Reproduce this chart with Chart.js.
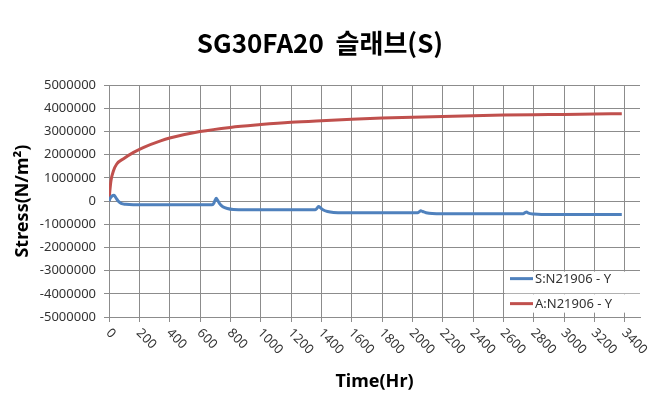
<!DOCTYPE html>
<html>
<head>
<meta charset="utf-8">
<script src="https://cdn.jsdelivr.net/npm/chart.js@4/dist/chart.umd.min.js"></script>
<style>
  html, body { margin: 0; padding: 0; background: #fff; }
  #wrap { width: 667px; height: 400px; }
</style>
</head>
<body>
<div id="wrap"><canvas id="chart" width="667" height="400"></canvas></div>
<script>
// S:N21906 - Y (blue)
const timeS = [0, 8, 20, 33, 45, 60, 80, 110, 160, 300, 500, 680, 692, 700, 707, 715, 730, 750, 780, 820, 900, 1100,
  1360, 1370, 1376, 1382, 1392, 1410, 1440, 1480, 1550, 1800, 2035, 2045, 2055, 2068, 2090, 2130, 2200, 2500,
  2730, 2742, 2752, 2765, 2800, 2850, 3000, 3380];
const stressS = [0, 120000, 220000, 250000, 150000, 0, -100000, -140000, -160000, -160000, -160000, -160000, -80000,
  50000, 120000, 40000, -120000, -240000, -320000, -360000, -370000, -370000,
  -370000, -320000, -260000, -230000, -280000, -370000, -450000, -490000, -500000, -500000,
  -500000, -460000, -420000, -450000, -500000, -540000, -550000, -550000,
  -550000, -500000, -470000, -520000, -560000, -580000, -580000, -580000];

// A:N21906 - Y (red)
const timeA = [0, 5, 13, 29, 51, 96, 162, 229, 340, 400, 600, 800, 1000, 1200, 1400, 1600, 1800, 2000, 2200, 2400,
  2600, 2800, 3000, 3200, 3380];
const stressA = [0, 400000, 880000, 1300000, 1600000, 1830000, 2100000, 2320000, 2600000, 2720000, 3000000, 3180000,
  3300000, 3400000, 3470000, 3530000, 3580000, 3620000, 3650000, 3680000, 3710000, 3730000, 3740000, 3760000, 3770000];

const xTickValues = [0, 200, 400, 600, 800, 1000, 1200, 1400, 1600, 1800, 2000, 2200, 2400, 2600, 2800, 3000, 3200, 3400];
const seriesNames = ["S:N21906 - Y", "A:N21906 - Y"];
const chartTitle = "SG30FA20  슬래브(S)";

const toPoints = (xs, ys) => xs.map((x, i) => ({ x: x, y: ys[i] }));

const BLUE = "#4f81bd";
const RED = "#c0504d";
const GRID = "#8c8c8c";
const TEXT = "#333333";
const FONT = "'Noto Sans', 'Noto Sans CJK KR', sans-serif";

// rotated x tick labels (reading downwards to the right)
const xLabels = {
  id: "xLabels",
  afterDraw(chart) {
    const ctx = chart.ctx;
    const sx = chart.scales.x;
    ctx.save();
    ctx.font = "13px " + FONT;
    ctx.fillStyle = TEXT;
    ctx.textAlign = "left";
    ctx.textBaseline = "middle";
    sx.ticks.forEach((t) => {
      const px = sx.getPixelForValue(t.value);
      ctx.save();
      ctx.translate(px - 1, sx.top + 14);
      ctx.rotate(Math.PI / 4);
      ctx.fillText(String(t.value), 0, 0);
      ctx.restore();
    });
    ctx.restore();
  },
};

// legend box inside the plot, lower right
const innerLegend = {
  id: "innerLegend",
  afterDatasetsDraw(chart) {
    const ctx = chart.ctx;
    const sy = chart.scales.y;
    const area = chart.chartArea;
    const gy = sy.getPixelForValue(-4000000);
    const top = sy.getPixelForValue(-3000000) + 1;
    const bottom = top + 41;
    const left = area.right - 135;
    ctx.save();
    ctx.fillStyle = "#ffffff";
    ctx.fillRect(left, top, area.right - left, gy - 0.5 - top);
    ctx.fillRect(left, gy + 0.5, area.right - left, bottom - gy - 0.5);
    ctx.font = "13px " + FONT;
    ctx.textBaseline = "middle";
    ctx.textAlign = "left";
    chart.data.datasets.forEach((ds, i) => {
      const y = top + 7 + i * 25;
      ctx.strokeStyle = ds.borderColor;
      ctx.lineWidth = 3;
      ctx.beginPath();
      ctx.moveTo(left + 5, y);
      ctx.lineTo(left + 28, y);
      ctx.stroke();
      ctx.fillStyle = TEXT;
      ctx.fillText(ds.label, left + 30, y + 1);
    });
    ctx.restore();
  },
};

new Chart(document.getElementById("chart"), {
  type: "line",
  data: {
    datasets: [
      {
        label: seriesNames[0],
        data: toPoints(timeS, stressS),
        borderColor: BLUE,
        borderWidth: 3,
        pointRadius: 0,
        cubicInterpolationMode: "monotone",
        fill: false,
      },
      {
        label: seriesNames[1],
        data: toPoints(timeA, stressA),
        borderColor: RED,
        borderWidth: 3,
        pointRadius: 0,
        cubicInterpolationMode: "monotone",
        fill: false,
      },
    ],
  },
  options: {
    responsive: false,
    animation: false,
    layout: { padding: { left: 0, right: 27, top: 0, bottom: 0 } },
    plugins: {
      legend: { display: false },
      tooltip: { enabled: false },
      title: {
        display: true,
        text: chartTitle,
        color: "#000",
        font: { family: "'Noto Sans CJK KR', 'Noto Sans', sans-serif", size: 26, weight: "bold" },
        padding: { top: 28, bottom: 26 },
      },
    },
    scales: {
      x: {
        type: "linear",
        min: 0,
        max: 3500,
        ticks: { display: false, stepSize: 200 },
        afterBuildTicks: (s) => {
          s.ticks = xTickValues.map((v) => ({ value: v }));
        },
        afterFit: (s) => {
          s.height = 83;
        },
        grid: { color: GRID, tickLength: 5 },
        border: { color: GRID },
        title: {
          display: true,
          text: "Time(Hr)",
          color: "#000",
          font: { family: FONT, size: 18, weight: "bold" },
          padding: { top: 0, bottom: 7 },
        },
      },
      y: {
        min: -5000000,
        max: 5000000,
        ticks: {
          stepSize: 1000000,
          color: TEXT,
          padding: 8,
          font: { family: FONT, size: 13 },
          callback: (v) => String(v),
        },
        afterFit: (s) => {
          s.width = 109;
        },
        grid: { color: GRID, tickLength: 5 },
        border: { color: GRID },
        title: {
          display: true,
          text: "Stress(N/m²)",
          color: "#000",
          font: { family: FONT, size: 18, weight: "bold" },
          padding: { top: 12, bottom: 0 },
        },
      },
    },
  },
  plugins: [xLabels, innerLegend],
});
</script>
</body>
</html>
